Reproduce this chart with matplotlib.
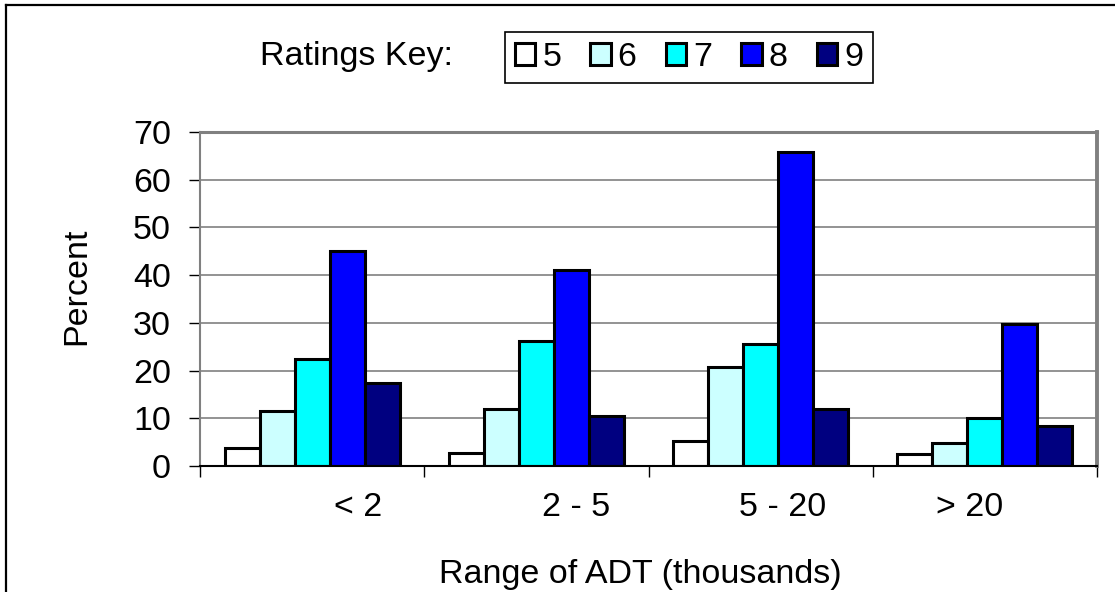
import matplotlib
matplotlib.use('Agg')
import numpy as np
import matplotlib.pyplot as plt
from matplotlib.lines import Line2D

plt.rcParams['font.family'] = ['Liberation Sans', 'DejaVu Sans']

# ── Data ──────────────────────────────────────────────────────────────────────
categories = ['< 2', '2 - 5', '5 - 20', '> 20']
ratings    = ['5', '6', '7', '8', '9']
values = {
    '5': [3.7, 2.8, 5.2, 2.5],
    '6': [11.5, 11.9, 20.8, 4.8],
    '7': [22.5, 26.1, 25.6, 10.0],
    '8': [45.1, 41.0, 65.8, 29.8],
    '9': [17.3, 10.5, 12.0, 8.4],
}
# where the category text sits (shifted off-centre like the original)
label_pos = [0.205, 1.177, 2.10, 2.934]

COLORS = ['#ffffff', '#ccffff', '#00ffff', '#0000ff', '#000080']
GRID = '#808080'
FS = 24.5

# ── Figure ────────────────────────────────────────────────────────────────────
fig = plt.figure(figsize=(11.15, 5.92), dpi=100)
fig.patch.set_facecolor('white')
W, H = 1115, 592
ax = fig.add_axes([200 / W, 1 - 466 / H, (1097 - 200) / W, (466 - 132) / H])

x = np.arange(len(categories))
bw = 0.156
handles = []
for j, r in enumerate(ratings):
    b = ax.bar(x + (j - 2) * bw, values[r], width=bw, color=COLORS[j],
               edgecolor='black', linewidth=2.2, zorder=3, label=r)
    handles.append(b)

ax.set_xlim(-0.5, 3.5)
ax.set_ylim(0, 70)
ax.set_yticks(np.arange(0, 71, 10))
ax.yaxis.grid(True, color=GRID, lw=1.2, zorder=0)
ax.set_axisbelow(True)

ax.set_xticks(np.arange(-0.5, 3.6, 1.0))
ax.set_xticklabels([])
ax.set_xticks(label_pos, minor=True)
ax.set_xticklabels(categories, minor=True, fontsize=FS)
ax.tick_params(axis='x', which='major', length=8, width=1, color='black', direction='out')
ax.tick_params(axis='x', which='minor', length=0, pad=19)
ax.tick_params(axis='y', length=8, width=1, color='black', direction='out',
               labelsize=FS, pad=13)

for side in ['top', 'right', 'left']:
    ax.spines[side].set_color(GRID)
ax.spines['top'].set_linewidth(2.2)
ax.spines['right'].set_linewidth(2.8)
ax.spines['left'].set_linewidth(1.5)
ax.spines['bottom'].set_color('black')
ax.spines['bottom'].set_linewidth(1.5)
ax.spines['bottom'].set_zorder(4)

# axis titles
fig.text(77 / W, 1 - 286 / H, 'Percent', rotation=90, ha='center', va='center', fontsize=FS)
fig.text(640 / W, 1 - 574 / H, 'Range of ADT (thousands)', ha='center', va='center', fontsize=FS)

# legend
fig.text(357 / W, 1 - 57 / H, 'Ratings Key:', ha='center', va='center', fontsize=FS)
leg = fig.legend(handles=handles, labels=ratings, loc='center', ncol=5,
                 bbox_to_anchor=(689 / W, 1 - 57.5 / H), fontsize=FS,
                 handlelength=0.6, handleheight=0.62, handletextpad=0.2,
                 columnspacing=0.86, borderpad=0.3, borderaxespad=0,
                 fancybox=False, framealpha=1, edgecolor='black')
leg.get_frame().set_linewidth(1.2)

# outer frame (top and left edges visible)
fig.add_artist(Line2D([6 / W, 1.0], [1 - 5 / H, 1 - 5 / H], transform=fig.transFigure,
                      color='black', lw=1.6))
fig.add_artist(Line2D([6 / W, 6 / W], [0.0, 1 - 5 / H], transform=fig.transFigure,
                      color='black', lw=1.6))

fig.savefig('out.png', dpi=100, facecolor='white')
